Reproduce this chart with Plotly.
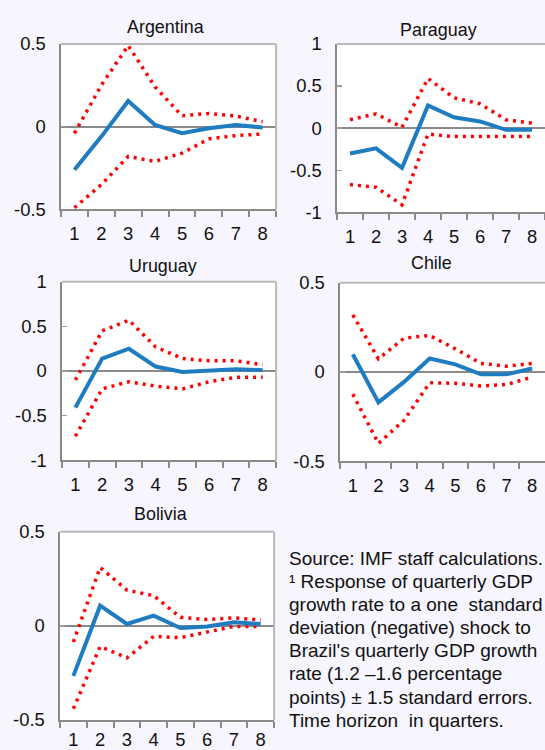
import plotly.graph_objects as go

# Quarters after the shock
quarters = ["1", "2", "3", "4", "5", "6", "7", "8"]

# Impulse responses (point estimate and ±1.5 s.e. bands)
argentina_irf = [-0.26, -0.06, 0.155, 0.01, -0.04, -0.01, 0.01, -0.005]
argentina_upper = [-0.04, 0.25, 0.49, 0.24, 0.066, 0.08, 0.064, 0.03]
argentina_lower = [-0.49, -0.35, -0.18, -0.21, -0.16, -0.074, -0.054, -0.044]

paraguay_irf = [-0.30, -0.24, -0.47, 0.27, 0.13, 0.08, -0.02, -0.02]
paraguay_upper = [0.10, 0.17, 0.01, 0.59, 0.36, 0.29, 0.10, 0.06]
paraguay_lower = [-0.67, -0.70, -0.91, -0.07, -0.10, -0.10, -0.10, -0.10]

uruguay_irf = [-0.41, 0.14, 0.25, 0.05, -0.01, 0.01, 0.02, 0.01]
uruguay_upper = [-0.10, 0.45, 0.57, 0.27, 0.14, 0.115, 0.115, 0.07]
uruguay_lower = [-0.73, -0.20, -0.12, -0.17, -0.20, -0.12, -0.07, -0.07]

chile_irf = [0.10, -0.17, -0.055, 0.076, 0.043, -0.013, -0.013, 0.02]
chile_upper = [0.32, 0.074, 0.19, 0.205, 0.13, 0.048, 0.033, 0.048]
chile_lower = [-0.124, -0.40, -0.27, -0.06, -0.063, -0.078, -0.07, -0.028]

bolivia_irf = [-0.266, 0.107, 0.01, 0.054, -0.012, -0.003, 0.019, 0.01]
bolivia_upper = [-0.086, 0.31, 0.19, 0.16, 0.045, 0.033, 0.042, 0.031]
bolivia_lower = [-0.44, -0.11, -0.17, -0.056, -0.063, -0.033, -0.003, -0.003]

countries = ["Argentina", "Paraguay", "Uruguay", "Chile", "Bolivia"]
y_ticks = [
    [-0.5, 0, 0.5],
    [-1, -0.5, 0, 0.5, 1],
    [-1, -0.5, 0, 0.5, 1],
    [-0.5, 0, 0.5],
    [-0.5, 0, 0.5],
]

note_lines = [
    "Source: IMF staff calculations.",
    "¹ Response of quarterly GDP",
    "growth rate to a one\u00a0 standard",
    "deviation (negative) shock to",
    "Brazil's quarterly GDP growth",
    "rate (1.2 –1.6 percentage",
    "points) ± 1.5 standard errors.",
    "Time horizon\u00a0 in quarters.",
]

W, H = 545, 750
# plot-area boxes in pixels: left, right, top, bottom
boxes = [
    (61.0, 276.1, 33.9, 204.4),
    (337.0, 545.0, 33.9, 207.5),
    (62.0, 276.1, 279.0, 462.8),
    (340.0, 545.0, 280.0, 463.9),
    (60.0, 274.1, 536.4, 730.4),
]
# panel titles: centre x, centre y (pixels)
title_pos = [(165.5, 16.5), (438.5, 19.6), (162.5, 262.7), (431.4, 259.6), (160.4, 518.0)]
# distance of the quarter labels from the bottom axis
x_label_gap = [7, 7, 7, 7, 2]
# panels whose right edge sits inside the page get a light frame there
right_frame = [True, False, True, False, True]

NOTE_X, NOTE_Y0, NOTE_STEP = 287.0, 564.0, 23.8

series = [
    (argentina_irf, argentina_upper, argentina_lower),
    (paraguay_irf, paraguay_upper, paraguay_lower),
    (uruguay_irf, uruguay_upper, uruguay_lower),
    (chile_irf, chile_upper, chile_lower),
    (bolivia_irf, bolivia_upper, bolivia_lower),
]

FONT = "Liberation Sans, Arial, sans-serif"
AXIS = "#8a8a8a"
BORDER = "#b9b9b9"
BLUE = "#1f7cc0"
RED = "#ff0000"
TXT = "#111111"

fig = go.Figure()
layout = {}
shapes = []
annotations = []

for i, (name, tv, box, (irf, up, lo)) in enumerate(zip(countries, y_ticks, boxes, series)):
    n = i + 1
    xa = "x" if n == 1 else f"x{n}"
    ya = "y" if n == 1 else f"y{n}"
    for band in (lo, up):
        fig.add_trace(go.Scatter(
            x=quarters, y=band, mode="lines", xaxis=xa, yaxis=ya,
            line=dict(color=RED, width=3.5, dash="3px,5px"),
            hoverinfo="skip",
        ))
    fig.add_trace(go.Scatter(
        x=quarters, y=irf, mode="lines", xaxis=xa, yaxis=ya,
        line=dict(color=BLUE, width=4),
    ))

    left, right, top, bottom = box
    xdom = [left / W, min(right / W, 1.0)]
    ydom = [1 - bottom / H, 1 - top / H]
    key = "" if n == 1 else str(n)
    layout[f"xaxis{key}"] = dict(
        domain=xdom, type="category", range=[-0.5, 7.5],
        tickson="boundaries", ticks="outside", ticklen=6, tickwidth=2,
        tickcolor=AXIS, showline=True, linecolor=AXIS, linewidth=2,
        showgrid=False, zeroline=False, anchor=ya,
        tickfont=dict(size=18.4, color=TXT, family=FONT),
        ticklabelstandoff=x_label_gap[i], fixedrange=True,
    )
    lim = max(tv)
    layout[f"yaxis{key}"] = dict(
        domain=ydom, range=[-lim, lim], tickvals=tv,
        ticktext=[f"{v:g}" for v in tv],
        ticks="inside", ticklen=5, tickwidth=1.5, tickcolor="#a0a0a0",
        showline=True, linecolor=AXIS, linewidth=2.5,
        showgrid=False, zeroline=True, zerolinecolor=AXIS, zerolinewidth=2,
        anchor=xa, tickfont=dict(size=18.4, color=TXT, family=FONT),
        ticklabelstandoff=9, fixedrange=True,
    )
    # light frame on top (and right) of the plot area
    shapes.append(dict(type="line", xref=f"{xa} domain", yref=f"{ya} domain",
                       x0=0, x1=1, y0=1, y1=1, line=dict(color=BORDER, width=2)))
    if right_frame[i]:
        shapes.append(dict(type="line", xref=f"{xa} domain", yref=f"{ya} domain",
                           x0=1, x1=1, y0=0, y1=1, line=dict(color=BORDER, width=2)))
    tx, ty = title_pos[i]
    annotations.append(dict(
        text=name, xref="paper", yref="paper",
        x=tx / W, y=1 - ty / H,
        xanchor="center", yanchor="middle", showarrow=False,
        font=dict(size=17.9, color=TXT, family=FONT),
    ))

# footnote, one annotation per line
for k, line in enumerate(note_lines):
    annotations.append(dict(
        text=line, xref="paper", yref="paper",
        x=NOTE_X / W, y=1 - (NOTE_Y0 + NOTE_STEP * k) / H,
        xanchor="left", yanchor="middle", align="left", showarrow=False,
        font=dict(size=19, color=TXT, family=FONT),
    ))

fig.update_layout(
    width=W, height=H, autosize=False,
    margin=dict(l=0, r=0, t=0, b=0),
    paper_bgcolor="#f7f5fe", plot_bgcolor="#ffffff",
    showlegend=False, shapes=shapes, annotations=annotations,
    **layout,
)

fig.write_html("out.html", config={"displayModeBar": False, "staticPlot": True})
